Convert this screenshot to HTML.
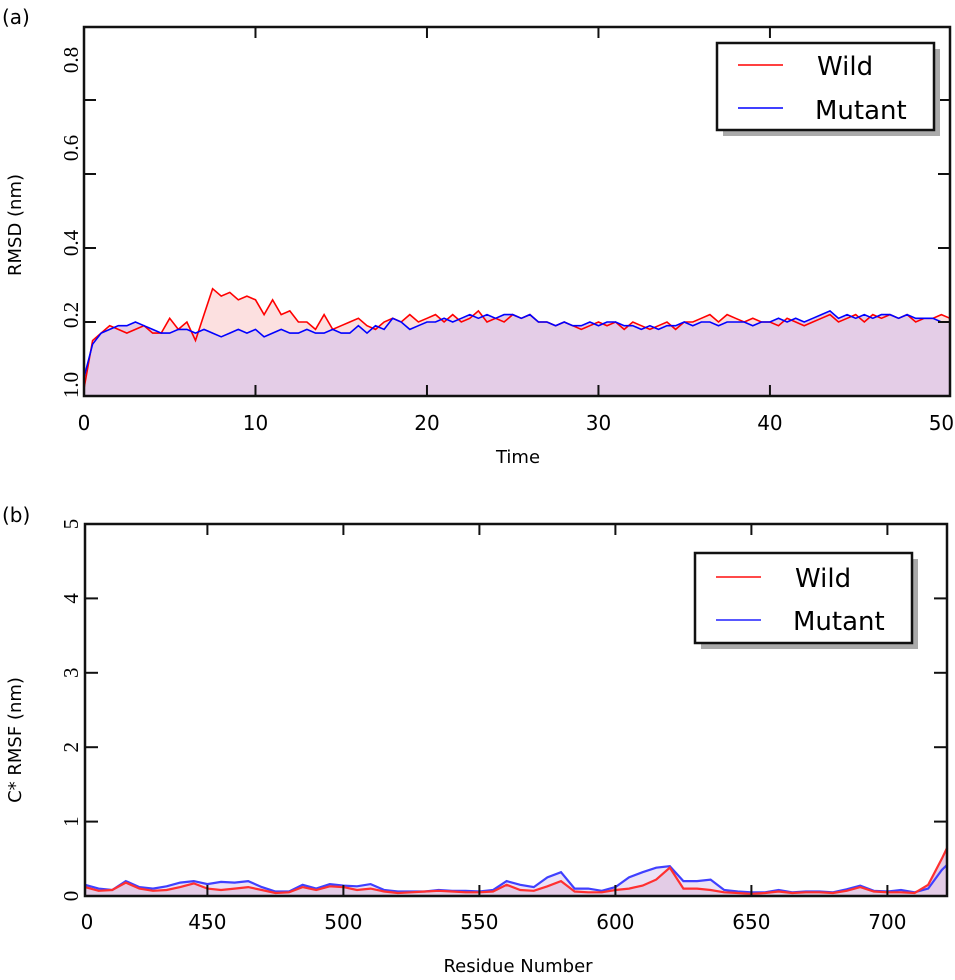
<!DOCTYPE html>
<html><head><meta charset="utf-8"><style>
body{margin:0;background:#fff;width:955px;height:980px;overflow:hidden}
svg{display:block;font-family:"DejaVu Sans","Liberation Sans",sans-serif}
</style></head><body>
<svg id="fig" width="955" height="980">
<text x="2" y="24" font-size="20">(a)</text>
<text x="2" y="522" font-size="20">(b)</text>
<g id="pa"></g>
<g id="pb"></g>
</svg>
<script>
// Panel (a) data: RMSD vs time
const timeA = [];
for (let i = 0; i <= 101; i++) timeA.push(i * 0.5);
const wildA = [0.02,0.15,0.17,0.19,0.18,0.17,0.18,0.19,0.17,0.17,0.21,0.18,0.2,0.15,0.22,0.29,0.27,0.28,0.26,0.27,0.26,0.22,0.26,0.22,0.23,0.2,0.2,0.18,0.22,0.18,0.19,0.2,0.21,0.19,0.18,0.2,0.21,0.2,0.22,0.2,0.21,0.22,0.2,0.22,0.2,0.21,0.23,0.2,0.21,0.2,0.22,0.21,0.22,0.2,0.2,0.19,0.2,0.19,0.18,0.19,0.2,0.19,0.2,0.18,0.2,0.19,0.18,0.19,0.2,0.18,0.2,0.2,0.21,0.22,0.2,0.22,0.21,0.2,0.21,0.2,0.2,0.19,0.21,0.2,0.19,0.2,0.21,0.22,0.2,0.21,0.22,0.2,0.22,0.21,0.22,0.21,0.22,0.2,0.21,0.21,0.22,0.21];
const mutantA = [0.05,0.14,0.17,0.18,0.19,0.19,0.2,0.19,0.18,0.17,0.17,0.18,0.18,0.17,0.18,0.17,0.16,0.17,0.18,0.17,0.18,0.16,0.17,0.18,0.17,0.17,0.18,0.17,0.17,0.18,0.17,0.17,0.19,0.17,0.19,0.18,0.21,0.2,0.18,0.19,0.2,0.2,0.21,0.2,0.21,0.22,0.21,0.22,0.21,0.22,0.22,0.21,0.22,0.2,0.2,0.19,0.2,0.19,0.19,0.2,0.19,0.2,0.2,0.19,0.19,0.18,0.19,0.18,0.19,0.19,0.2,0.19,0.2,0.2,0.19,0.2,0.2,0.2,0.19,0.2,0.2,0.21,0.2,0.21,0.2,0.21,0.22,0.23,0.21,0.22,0.21,0.22,0.21,0.22,0.22,0.21,0.22,0.21,0.21,0.21,0.2,0.2];
const xTicksA = [0,10,20,30,40,50];
const yTicksA = [0.2,0.4,0.6,0.8];
const yLabelsA = ["1.0","0.2","0.4","0.6","0.8"];
// Panel (b) data: RMSF vs residue
const residueB = [405,410,415,420,425,430,435,440,445,450,455,460,465,470,475,480,485,490,495,500,505,510,515,520,525,530,535,540,545,550,555,560,565,570,575,580,585,590,595,600,605,610,615,620,625,630,635,640,645,650,655,660,665,670,675,680,685,690,695,700,705,710,715,720,722];
const wildB = [0.12,0.07,0.08,0.18,0.1,0.07,0.08,0.12,0.17,0.1,0.08,0.1,0.12,0.08,0.04,0.05,0.12,0.08,0.13,0.12,0.08,0.1,0.06,0.04,0.05,0.06,0.07,0.06,0.05,0.05,0.06,0.15,0.08,0.07,0.13,0.2,0.06,0.05,0.05,0.08,0.1,0.14,0.22,0.38,0.1,0.1,0.08,0.05,0.04,0.03,0.04,0.06,0.04,0.05,0.05,0.04,0.07,0.12,0.06,0.05,0.05,0.04,0.15,0.5,0.65];
const mutantB = [0.15,0.1,0.08,0.2,0.12,0.1,0.13,0.18,0.2,0.16,0.19,0.18,0.2,0.12,0.06,0.06,0.15,0.1,0.16,0.14,0.13,0.16,0.08,0.06,0.06,0.06,0.08,0.07,0.07,0.06,0.08,0.2,0.15,0.12,0.25,0.32,0.1,0.1,0.07,0.12,0.25,0.32,0.38,0.4,0.2,0.2,0.22,0.08,0.06,0.05,0.05,0.08,0.05,0.06,0.06,0.05,0.09,0.14,0.07,0.06,0.08,0.05,0.1,0.35,0.42];
const xTicksB = [450,500,550,600,650,700];
const yTicksB = [0,1,2,3,4,5];

const NS = "http://www.w3.org/2000/svg";
function mk(parent, tag, attrs, txt) {
  const e = document.createElementNS(NS, tag);
  for (const k in attrs) e.setAttribute(k, attrs[k]);
  if (txt !== undefined) e.textContent = txt;
  parent.appendChild(e);
  return e;
}
function linePath(xs, ys, sx, sy) {
  return xs.map((x, i) => (i ? "L" : "M") + sx(x).toFixed(1) + "," + sy(ys[i]).toFixed(1)).join("");
}
function areaPath(xs, ys, sx, sy, y0) {
  return linePath(xs, ys, sx, sy) + "L" + sx(xs[xs.length - 1]).toFixed(1) + "," + y0 + "L" + sx(xs[0]).toFixed(1) + "," + y0 + "Z";
}

// ---------- Panel A ----------
(function () {
  const g = document.getElementById("pa");
  const L = 84, R = 950, T = 27, B = 396;
  const sx = v => L + (v - 0) / 50.5 * (R - L);
  const sy = v => B - v * 370;
  const fw = mk(g, "path", {d: areaPath(timeA, wildA, sx, sy, B), fill: "#fce0e0"});
  
  
  const fm = mk(g, "path", {d: areaPath(timeA, mutantA, sx, sy, B), fill: "#e4cde7"});
  
  
  const lw = mk(g, "path", {d: linePath(timeA, wildA, sx, sy), fill: "none", stroke: "#ff0000", "stroke-width": 1.6});
  
  
  const lm = mk(g, "path", {d: linePath(timeA, mutantA, sx, sy), fill: "none", stroke: "#0000ff", "stroke-width": 1.6});
  
  
  const fr = mk(g, "rect", {x: L, y: T, width: R - L, height: B - T, fill: "none", stroke: "#111", "stroke-width": 2.5});
  
  
  xTicksA.forEach(v => {
    const x = sx(v);
    if (v > 0 && v < 50) {
      mk(g, "line", {x1: x, x2: x, y1: B, y2: B - 11, stroke: "#111", "stroke-width": 2});
      mk(g, "line", {x1: x, x2: x, y1: T, y2: T + 11, stroke: "#111", "stroke-width": 2});
    }
    const t = mk(g, "text", {x: x, y: 430, "font-size": 20, "text-anchor": "middle"}, String(v));
    
    
  });
  yTicksA.forEach(v => {
    const y = sy(v);
    mk(g, "line", {x1: L, x2: L + 12, y1: y, y2: y, stroke: "#111", "stroke-width": 2});
    mk(g, "line", {x1: R, x2: R - 12, y1: y, y2: y, stroke: "#111", "stroke-width": 2});
  });
  const labelY = [385, 315, 243, 148, 60];
  yLabelsA.forEach((s, i) => {
    const t = mk(g, "text", {x: 0, y: 0, "font-size": 21, "text-anchor": "middle", "font-family": "Liberation Serif, serif", transform: "translate(78," + labelY[i] + ") rotate(-90)"}, s);
    
    
  });
  const yt = mk(g, "text", {x: 0, y: 0, "font-size": 18, "text-anchor": "middle", transform: "translate(21,225) rotate(-90)"}, "RMSD (nm)");
  
  
  const xt = mk(g, "text", {x: 518, y: 463, "font-size": 18, "text-anchor": "middle"}, "Time");
  
  
  const lg = mk(g, "g", {});
  
  
  mk(lg, "rect", {x: 723, y: 49, width: 217, height: 87, fill: "#aaa"});
  mk(lg, "rect", {x: 717, y: 43, width: 217, height: 87, fill: "#fff", stroke: "#111", "stroke-width": 2.5});
  mk(lg, "line", {x1: 738, x2: 783, y1: 65, y2: 65, stroke: "#ff0000", "stroke-width": 1.6});
  mk(lg, "line", {x1: 738, x2: 783, y1: 108, y2: 108, stroke: "#0000ff", "stroke-width": 1.6});
  const e1 = mk(lg, "text", {x: 817, y: 75, "font-size": 26}, "Wild");
  
  
  const e2 = mk(lg, "text", {x: 815, y: 119, "font-size": 26}, "Mutant");
  
  
})();

// ---------- Panel B ----------
(function () {
  const g = document.getElementById("pb");
  const L = 85, R = 947, T = 524, B = 896;
  const sx = v => L + (v - 405) * (136 / 50);
  const sy = v => B - v * 74.4;
  const fw = mk(g, "path", {d: areaPath(residueB, mutantB, sx, sy, B), fill: "#ece3f6"});
  
  
  const fm = mk(g, "path", {d: areaPath(residueB, wildB, sx, sy, B), fill: "#e3cce6"});
  
  
  const lm = mk(g, "path", {d: linePath(residueB, mutantB, sx, sy), fill: "none", stroke: "#4040ff", "stroke-width": 2.2});
  
  
  const lw = mk(g, "path", {d: linePath(residueB, wildB, sx, sy), fill: "none", stroke: "#ff3030", "stroke-width": 2.2});
  
  
  const fr = mk(g, "rect", {x: L, y: T, width: R - L, height: B - T, fill: "none", stroke: "#111", "stroke-width": 2.5});
  
  
  const t0 = mk(g, "text", {x: 87, y: 929, "font-size": 20, "text-anchor": "middle"}, "0");
  
  
  xTicksB.forEach(v => {
    const x = sx(v);
    mk(g, "line", {x1: x, x2: x, y1: B, y2: B - 11, stroke: "#111", "stroke-width": 2});
    mk(g, "line", {x1: x, x2: x, y1: T, y2: T + 11, stroke: "#111", "stroke-width": 2});
    const t = mk(g, "text", {x: x, y: 929, "font-size": 20, "text-anchor": "middle"}, String(v));
    
    
  });
  yTicksB.forEach(v => {
    const y = sy(v);
    if (v > 0 && v < 5) {
      mk(g, "line", {x1: L, x2: L + 13, y1: y, y2: y, stroke: "#111", "stroke-width": 2});
      mk(g, "line", {x1: R, x2: R - 13, y1: y, y2: y, stroke: "#111", "stroke-width": 2});
    }
    const t = mk(g, "text", {x: 0, y: 0, "font-size": 21, "text-anchor": "middle", "font-family": "Liberation Serif, serif", transform: "translate(78," + y + ") rotate(-90)"}, String(v));
    
    
  });
  const yt = mk(g, "text", {x: 0, y: 0, "font-size": 18, "text-anchor": "middle", transform: "translate(21,740) rotate(-90)"}, "C* RMSF (nm)");
  
  
  const xt = mk(g, "text", {x: 518, y: 972, "font-size": 18, "text-anchor": "middle"}, "Residue Number");
  
  
  const lg = mk(g, "g", {});
  
  
  mk(lg, "rect", {x: 701, y: 559, width: 217, height: 90, fill: "#aaa"});
  mk(lg, "rect", {x: 695, y: 553, width: 217, height: 90, fill: "#fff", stroke: "#111", "stroke-width": 2.5});
  mk(lg, "line", {x1: 716, x2: 761, y1: 577, y2: 577, stroke: "#ff3030", "stroke-width": 1.8});
  mk(lg, "line", {x1: 716, x2: 761, y1: 620, y2: 620, stroke: "#4040ff", "stroke-width": 1.8});
  const e1 = mk(lg, "text", {x: 795, y: 587, "font-size": 26}, "Wild");
  
  
  const e2 = mk(lg, "text", {x: 793, y: 630, "font-size": 26}, "Mutant");
  
  
})();
</script>
</body></html>
